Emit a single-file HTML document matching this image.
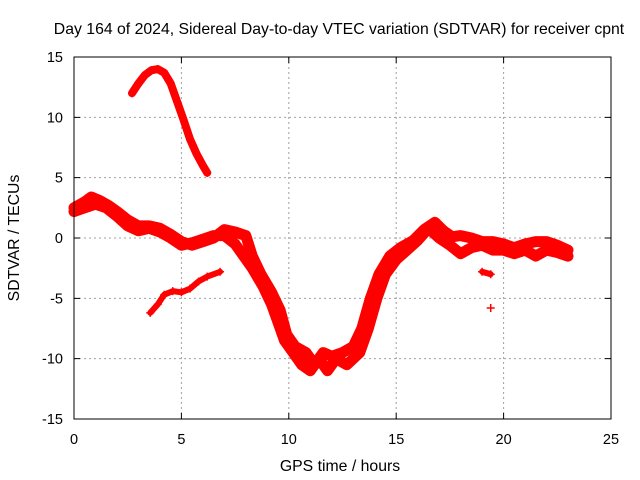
<!DOCTYPE html>
<html><head><meta charset="utf-8"><style>
body{margin:0;background:#fff}
svg{display:block;font-family:"Liberation Sans",sans-serif;font-size:14.5px}
</style></head><body>
<svg id="chart" width="640" height="480">
<rect width="640" height="480" fill="#fff"/>
<text x="339" y="34" text-anchor="middle" font-size="15.8">Day 164 of 2024, Sidereal Day-to-day VTEC variation (SDTVAR) for receiver cpnt</text>
<g id="grid"></g>
<g id="marks"></g>
<rect x="74" y="57" width="537" height="362" fill="none" stroke="#000"/>
<g id="ticks"></g>
<text x="340" y="471" text-anchor="middle" font-size="15.8">GPS time / hours</text>
<text transform="translate(19,238) rotate(-90)" text-anchor="middle" font-size="15.8">SDTVAR / TECUs</text>
</svg>
<script>
const xTicks=[0,5,10,15,20,25];
const yTicks=[-15,-10,-5,0,5,10,15];
const arcTop=[[2.7,12],[3.0,12.8],[3.3,13.5],[3.6,13.9],[3.9,14.0],[4.2,13.7],[4.5,12.8],[4.8,11.3],[5.1,9.8],[5.4,8.2],[5.7,7.0],[6.0,6.0],[6.2,5.4]];
const arcLow=[[3.55,-6.2],[3.9,-5.5],[4.2,-4.7],[4.6,-4.4],[5.0,-4.5],[5.4,-4.2],[5.8,-3.6],[6.2,-3.2],[6.8,-2.8]];
const track1=[[0,2.5],[0.5,3],[0.8,3.4],[1.2,3.1],[1.6,2.7],[2,2.2],[2.5,1.5],[3,1.0],[3.5,1.0],[4,0.8],[4.5,0.3],[5,-0.3],[5.5,-0.6],[6,-0.3],[6.5,0],[7,0.7],[7.5,0.5],[8,0.2],[8.3,-1.5],[8.7,-3],[9.2,-4.5],[9.6,-6],[9.9,-8],[10.3,-9],[10.8,-9.5],[11.2,-10.5],[11.6,-9.5],[12,-9.8],[12.5,-9.5],[13,-9],[13.4,-7.5],[13.8,-5],[14.2,-3],[14.7,-1.5],[15.2,-0.8],[15.8,-0.2],[16.3,0.7],[16.8,1.3],[17.2,0.6],[17.6,0.1],[18,0.2],[18.5,0],[19,-0.3],[19.5,-0.3],[20,-0.5],[20.5,-0.8],[21,-0.5],[21.5,-0.3],[22,-0.3],[22.5,-0.6],[23,-1.0]];
const track2=[[0,2.2],[0.5,2.5],[1,2.8],[1.5,2.5],[2,1.8],[2.5,1.0],[3,0.6],[3.5,0.8],[4,0.5],[4.5,0],[5,-0.6],[5.5,-0.4],[6,-0.1],[6.5,0.2],[7,0.2],[7.5,-0.5],[7.9,-1.5],[8.3,-2.5],[8.8,-4],[9.2,-5.5],[9.5,-7],[9.8,-8.5],[10.2,-9.5],[10.6,-10.5],[11,-11],[11.4,-10],[11.8,-11],[12.2,-10],[12.7,-10.5],[13,-10],[13.3,-9.5],[13.7,-7.5],[14.1,-5],[14.5,-3],[15,-1.8],[15.5,-1],[16,-0.2],[16.5,0.8],[17,0],[17.5,-0.6],[18,-1.3],[18.5,-0.8],[19,-0.6],[19.5,-1],[20,-1],[20.5,-1.3],[21,-1],[21.5,-1.5],[22,-1],[22.5,-1.2],[23,-1.5]];
const blip=[[19,-2.8],[19.4,-3]];
const isolated=[[19.4,-5.8]];
const NS='http://www.w3.org/2000/svg';
const x0=74,x1=611,y0=419,y1=57;
function sx(t){return x0+(t-0)/(25-0)*(x1-x0);}
function sy(v){return y0-(v+15)/30*(y0-y1);}
function mk(tag,at,parent){const e=document.createElementNS(NS,tag);for(const k in at)e.setAttribute(k,at[k]);parent.appendChild(e);return e;}
const grid=document.getElementById('grid'),ticks=document.getElementById('ticks'),marks=document.getElementById('marks');
xTicks.forEach(t=>{const x=sx(t);
 if(t>0&&t<25){const g=mk('line',{x1:x,x2:x,y1:y1,y2:y0,stroke:'#a0a0a0','stroke-dasharray':'2,3'},grid);}
 const a=mk('path',{d:`M${x},${y0}v-6M${x},${y1}v6`,stroke:'#000'},ticks);
 const l=mk('text',{x:x,y:444,'text-anchor':'middle'},ticks);l.textContent=t;});
yTicks.forEach(v=>{const y=sy(v);
 if(v>-15&&v<15){const g=mk('line',{x1:x0,x2:x1,y1:y,y2:y,stroke:'#a0a0a0','stroke-dasharray':'2,3'},grid);}
 const a=mk('path',{d:`M${x0},${y}h6M${x1},${y}h-6`,stroke:'#000'},ticks);
 const l=mk('text',{x:63,y:y+5,'text-anchor':'end'},ticks);l.textContent=v;});
function series(pts,name,w){
 const d=pts.map((p,i)=>(i?'L':'M')+sx(p[0]).toFixed(1)+','+sy(p[1]).toFixed(1)).join('');
 const s=mk('path',{d:d,fill:'none',stroke:'#f00','stroke-width':w,'stroke-linejoin':'round','stroke-linecap':'round'},marks);
 
 
 pts.forEach(p=>{const x=sx(p[0]),y=sy(p[1]);
  const m=mk('path',{d:`M${x-4},${y}h8M${x},${y-4}v8`,stroke:'#f00','stroke-width':1.5},marks);
  
  });
}
series(arcTop,'series-arc-top',8);
series(arcLow,'series-arc-low',6);
series(track1,'series-track-1',11);
series(track2,'series-track-2',11);
series(blip,'series-blip',6);
series(isolated,'series-isolated',2);
</script>
</body></html>
